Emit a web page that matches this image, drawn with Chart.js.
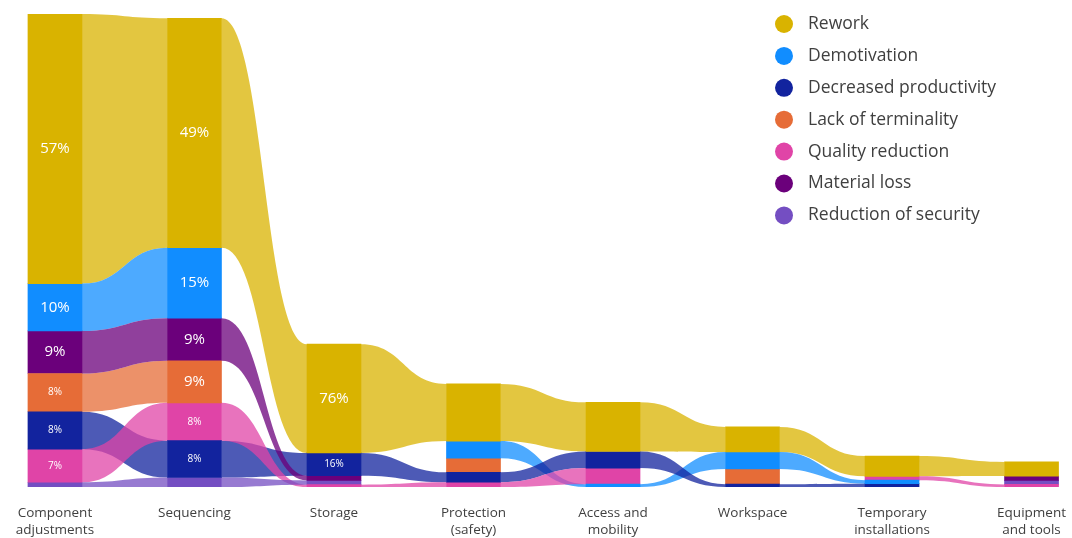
<!DOCTYPE html>
<html>
<head>
<meta charset="utf-8">
<script src="https://cdn.jsdelivr.net/npm/chart.js@4.4.1/dist/chart.umd.min.js"></script>
<style>
  html, body { margin: 0; padding: 0; background: #fff; }
  #wrap { width: 1072px; height: 538px; }
</style>
</head>
<body>
<div id="wrap"><canvas id="ribbonChart" width="1072" height="538"></canvas></div>
<script>
// --- Data ---
const categories = [
    ['Component', 'adjustments'], 'Sequencing', 'Storage', ['Protection', '(safety)'],
    ['Access and', 'mobility'], 'Workspace', ['Temporary', 'installations'], ['Equipment', 'and tools']
];
const seriesNames = ['Rework', 'Demotivation', 'Decreased productivity', 'Lack of terminality',
    'Quality reduction', 'Material loss', 'Reduction of security'];
const seriesColors = ['#D9B300', '#118DFF', '#12239E', '#E66C37', '#E044A7', '#6B007B', '#744EC2'];

// occurrences per category, same order as categories
const rework               = [57,  48.5, 23.0, 12.1, 10.4, 5.3, 4.3,  3.0];
const demotivation         = [10,  14.9, 0,    3.6,  0.6,  3.6, 0.75, 0];
const decreasedProductivity= [7.9, 7.8,  4.8,  2.1,  3.5,  0.6, 0.7,  0];
const lackOfTerminality    = [8.1, 8.9,  0,    3.0,  0,    3.2, 0,    0];
const qualityReduction     = [7,   8.0,  0.5,  1.0,  3.4,  0,   0.8,  0.55];
const materialLoss         = [9,   9.0,  1.0,  0,    0,    0,   0,    0.9];
const reductionOfSecurity  = [1,   2.0,  0.9,  0,    0,    0,   0,    0.85];

const seriesValues = [rework, demotivation, decreasedProductivity, lackOfTerminality,
    qualityReduction, materialLoss, reductionOfSecurity];

// only the first columns carry percentage labels
const labeledCategories = 3;

// --- Stack each column largest-on-top (ribbon chart ordering) ---
const totals = categories.map((c, i) => seriesValues.reduce((sum, vals) => sum + vals[i], 0));
const ranges = seriesValues.map(() => []);
categories.forEach((c, i) => {
    const order = seriesValues.map((vals, s) => s).sort((a, b) => seriesValues[b][i] - seriesValues[a][i]);
    let top = totals[i];
    order.forEach(s => {
        const v = seriesValues[s][i];
        ranges[s][i] = v > 0 ? [top - v, top] : null;
        top -= v;
    });
});

const datasets = seriesNames.map((name, s) => ({
    label: name,
    data: categories.map((c, i) => ({ x: i, y: ranges[s][i] })),
    backgroundColor: seriesColors[s],
    barThickness: 54,
    grouped: false,
    borderWidth: 0
}));

// --- Ribbons between neighbouring columns ---
const ribbonPlugin = {
    id: 'ribbons',
    beforeDatasetsDraw(chart) {
        const ctx = chart.ctx;
        ctx.save();
        ctx.globalAlpha = 0.75;
        chart.data.datasets.forEach((ds, s) => {
            const bars = chart.getDatasetMeta(s).data;
            for (let i = 0; i < categories.length - 1; i++) {
                if (!ranges[s][i] || !ranges[s][i + 1]) continue;
                const a = bars[i], b = bars[i + 1];
                const x0 = a.x + a.width / 2, x1 = b.x - b.width / 2, xm = (x0 + x1) / 2;
                const aTop = Math.min(a.y, a.base), aBot = Math.max(a.y, a.base);
                const bTop = Math.min(b.y, b.base), bBot = Math.max(b.y, b.base);
                ctx.beginPath();
                ctx.moveTo(x0, aTop);
                ctx.bezierCurveTo(xm, aTop, xm, bTop, x1, bTop);
                ctx.lineTo(x1, bBot);
                ctx.bezierCurveTo(xm, bBot, xm, aBot, x0, aBot);
                ctx.closePath();
                ctx.fillStyle = seriesColors[s];
                ctx.fill();
            }
        });
        ctx.restore();
    }
};

// --- Percentage labels inside the segments ---
const segmentLabels = {
    id: 'segmentLabels',
    afterDatasetsDraw(chart) {
        const ctx = chart.ctx;
        ctx.save();
        ctx.fillStyle = '#ffffff';
        ctx.textAlign = 'center';
        ctx.textBaseline = 'middle';
        chart.data.datasets.forEach((ds, s) => {
            const bars = chart.getDatasetMeta(s).data;
            for (let i = 0; i < labeledCategories; i++) {
                if (!ranges[s][i]) continue;
                const bar = bars[i];
                const h = Math.abs(bar.base - bar.y);
                if (h < 18) continue;
                const pct = Math.round(seriesValues[s][i] / totals[i] * 100);
                ctx.font = (h >= 40 ? '15px' : '10px') + " 'Open Sans', sans-serif";
                ctx.fillText(pct + '%', bar.x, (bar.y + bar.base) / 2);
            }
        });
        ctx.restore();
    }
};

// --- Legend in the top right corner ---
const cornerLegend = {
    id: 'cornerLegend',
    afterDraw(chart) {
        const ctx = chart.ctx;
        ctx.save();
        ctx.font = "17.5px 'Open Sans', sans-serif";
        ctx.textBaseline = 'middle';
        seriesNames.forEach((name, s) => {
            const y = 24 + s * 31.9;
            ctx.beginPath();
            ctx.arc(784, y, 9, 0, Math.PI * 2);
            ctx.fillStyle = seriesColors[s];
            ctx.fill();
            ctx.fillStyle = '#404040';
            ctx.fillText(name, 808, y);
        });
        ctx.restore();
    }
};

new Chart(document.getElementById('ribbonChart'), {
    type: 'bar',
    data: { datasets },
    options: {
        responsive: false,
        animation: false,
        layout: { padding: { top: 14, left: 0, right: 0, bottom: 0 } },
        plugins: { legend: { display: false }, tooltip: { enabled: false } },
        scales: {
            x: {
                type: 'linear',
                offset: false,
                min: -0.394,
                max: 7.29,
                grid: { display: false, drawTicks: false },
                border: { display: false },
                afterBuildTicks: scale => { scale.ticks = categories.map((c, i) => ({ value: i })); },
                afterFit: scale => {
                    scale.height = 51;
                    // the plot runs edge to edge; labels may sit close to the canvas border
                    scale.paddingLeft = 0;
                    scale.paddingRight = 0;
                },
                ticks: {
                    autoSkip: false,
                    maxRotation: 0,
                    padding: 17,
                    color: '#404040',
                    font: { family: "'Open Sans', sans-serif", size: 13.5, lineHeight: 1.3 },
                    callback: v => categories[v]
                }
            },
            y: { display: false, min: 0, max: 100 }
        }
    },
    plugins: [ribbonPlugin, segmentLabels, cornerLegend]
});
</script>
</body>
</html>
